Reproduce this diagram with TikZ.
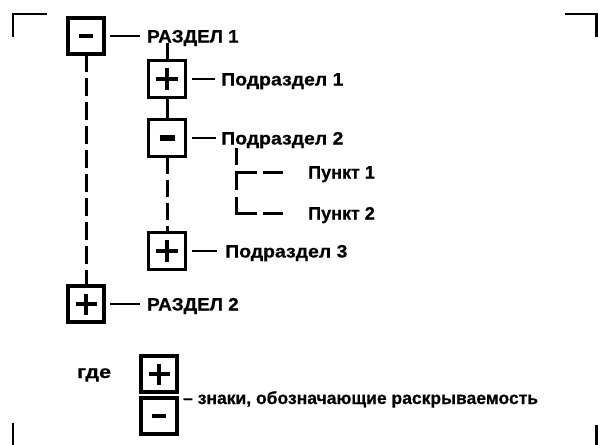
\documentclass[tikz,border=0pt]{standalone}
\usepackage{fontspec}
\setmainfont{Liberation Sans}
\newfontfamily\heavyfont{Liberation Sans Bold}[FakeBold=0.6]
\newcommand{\capsq}[1]{\scalebox{1.05}[1]{#1}}
\newcommand{\widesq}[1]{\scalebox{1.08}[1]{#1}}
\begin{document}
\begin{tikzpicture}[x=1pt,y=-1pt,
  box/.style={draw, line width=3.2pt, minimum size=36pt, inner sep=0pt, outer sep=0pt},
  sbox/.style={box, minimum size=37pt},
  lbl/.style={inner sep=0pt, anchor=base west, font=\fontsize{18}{20}\heavyfont},
  legtxt/.style={inner sep=0pt, anchor=base west, font=\fontsize{17.5}{20}\heavyfont},
  tick/.style={line width=2.3pt},
  conn/.style={line width=3pt},
  dconn/.style={conn, dash pattern=on 18pt off 6pt},
  sdconn/.style={conn, dash pattern=on 17pt off 6pt},
  sign/.style={line width=3.2pt},
  cornerm/.style={line width=2.6pt}]
\useasboundingbox (0,0) rectangle (598,445);
% corner marks
\draw[cornerm] (13,37) -- (13,14) -- (47,14);
\draw[cornerm] (565,14) -- (596.7,14) -- (596.7,37);
\draw[cornerm] (13,423) -- (13,445);
\draw[cornerm] (596.7,425) -- (596.7,445);
% nodes
\node[box]  (b1) at (86,36) {};
\node[lbl]  (t1) at (147,42.5) {\capsq{РАЗДЕЛ 1}};
\node[sbox] (b2) at (167,79) {};
\node[lbl]  (t2) at (221,85.5) {\widesq{Подраздел 1}};
\node[sbox] (b3) at (167,138) {};
\node[lbl]  (t3) at (221,144.5) {\widesq{Подраздел 2}};
\node[lbl]  (p1) at (308,178.5) {Пункт 1};
\node[lbl]  (p2) at (308,219.5) {Пункт 2};
\node[sbox] (b4) at (167,251) {};
\node[lbl]  (t4) at (225,257.5) {\widesq{Подраздел 3}};
\node[box]  (b5) at (86,304) {};
\node[lbl]  (t5) at (147,310.5) {\capsq{РАЗДЕЛ 2}};
\node[lbl]  (gde) at (77,378) {\scalebox{1.2}[1]{где}};
\node[box]  (lp) at (159,374) {};
\node[box]  (lm) at (159,416) {};
\node[legtxt] (lt) at (183,404) {– знаки, обозначающие раскрываемость};
% signs
\draw[sign, line width=4pt] ([xshift=-7pt]b1.center) -- ([xshift=7pt]b1.center);
\draw[sign] ([xshift=-11pt]b2.center) -- ([xshift=11pt]b2.center);
\draw[sign] ([yshift=-11pt]b2.center) -- ([yshift=11pt]b2.center);
\draw[sign, line width=6pt] ([xshift=-7.5pt]b3.center) -- ([xshift=7.5pt]b3.center);
\draw[sign] ([xshift=-11pt]b4.center) -- ([xshift=11pt]b4.center);
\draw[sign] ([yshift=-11pt]b4.center) -- ([yshift=11pt]b4.center);
\draw[sign] ([xshift=-10.5pt]b5.center) -- ([xshift=10.5pt]b5.center);
\draw[sign] ([yshift=-10.5pt]b5.center) -- ([yshift=10.5pt]b5.center);
\draw[sign] ([xshift=-10.5pt]lp.center) -- ([xshift=10.5pt]lp.center);
\draw[sign] ([yshift=-10.5pt]lp.center) -- ([yshift=10.5pt]lp.center);
\draw[sign] ([xshift=-7pt]lm.center) -- ([xshift=7pt]lm.center);
% box-to-label ticks
\draw[tick, shorten <=6pt, shorten >=7pt] (b1.east) -- (b1.east -| t1.west);
\draw[tick, shorten <=6pt, shorten >=6pt] (b2.east) -- (b2.east -| t2.west);
\draw[tick, shorten <=6pt, shorten >=5pt] (b3.east) -- (b3.east -| t3.west);
\draw[tick, shorten <=6pt, shorten >=8pt] (b4.east) -- (b4.east -| t4.west);
\draw[tick, shorten <=6pt, shorten >=7pt] (b5.east) -- (b5.east -| t5.west);
% tree connectors
\draw[conn] (t1.base -| b2.north) -- (b2.north);
\draw[conn] (b2.south) -- (b3.north);
\draw[sdconn] (b3.south) -- (b4.north);
\draw[dconn] (b1.south) -- (b5.north);
% items under Подраздел 2
\coordinate (s3) at (236,148);
\coordinate (k1) at (236,172);
\coordinate (k2) at (236,213);
\draw[conn, dash pattern=on 17pt off 7pt on 18pt off 7pt on 20pt] (s3) -- (k2);
\draw[conn, dash pattern=on 22pt off 6pt on 20pt off 200pt] ([xshift=-1.5pt]k1) -- (k1 -| p1.west);
\draw[conn, dash pattern=on 22pt off 6pt on 20pt off 200pt] ([xshift=-1.5pt]k2) -- (k2 -| p2.west);
\end{tikzpicture}
\end{document}
